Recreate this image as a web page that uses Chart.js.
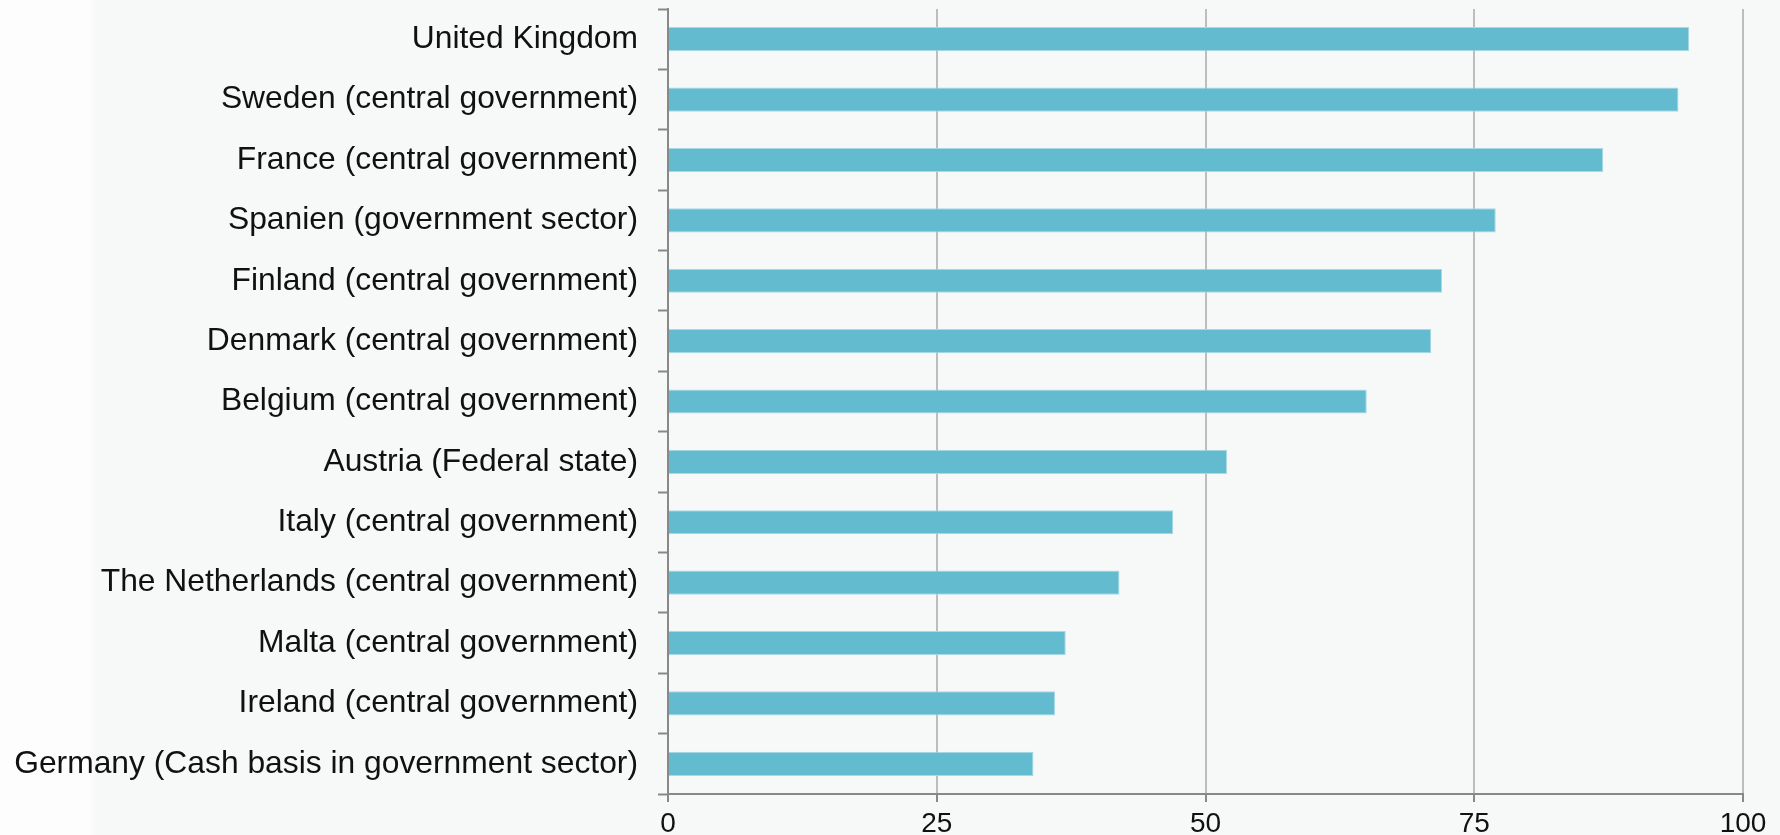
<!DOCTYPE html>
<html>
<head>
<meta charset="utf-8">
<script src="https://cdn.jsdelivr.net/npm/chart.js@4/dist/chart.umd.min.js"></script>
<style>
  html, body { margin: 0; padding: 0; }
  body {
    width: 1780px; height: 835px; overflow: hidden;
    background: linear-gradient(to right, #fdfdfd 0px, #fdfdfd 88px, #f7f9f9 96px, #f7f9f9 100%);
  }
  #wrap { position: relative; width: 1780px; height: 835px; }
</style>
</head>
<body>
<div id="wrap"><canvas id="barChart"></canvas></div>
<script>
const categories = [
  'United Kingdom',
  'Sweden (central government)',
  'France (central government)',
  'Spanien (government sector)',
  'Finland (central government)',
  'Denmark (central government)',
  'Belgium (central government)',
  'Austria (Federal state)',
  'Italy (central government)',
  'The Netherlands (central government)',
  'Malta (central government)',
  'Ireland (central government)',
  'Germany (Cash basis in government sector)'
];
const values = [95, 94, 87, 77, 72, 71, 65, 52, 47, 42, 37, 36, 34];
const xMin = 0;
const xMax = 100;
const xStep = 25;

const ctx = document.getElementById('barChart');
const chart = new Chart(ctx, {
  type: 'bar',
  data: {
    labels: categories,
    datasets: [{
      data: values,
      backgroundColor: '#62bbcf',
      borderColor: '#a8d9e4',
      borderWidth: 1,
      borderSkipped: 'start',
      barPercentage: 0.4,
      categoryPercentage: 1.0
    }]
  },
  options: {
    indexAxis: 'y',
    responsive: true,
    maintainAspectRatio: false,
    animation: false,
    layout: { padding: { top: 9, right: 37, left: 0, bottom: 0 } },
    plugins: {
      legend: { display: false },
      title: { display: false },
      tooltip: { enabled: false }
    },
    scales: {
      x: {
        min: xMin,
        max: xMax,
        ticks: {
          stepSize: xStep,
          color: '#111',
          font: { family: 'Liberation Sans, Arial, sans-serif', size: 28 },
          padding: 5,
          maxRotation: 0
        },
        grid: {
          color: '#bdbdbd',
          lineWidth: 2,
          tickColor: '#888',
          tickLength: 8
        },
        border: { display: true, color: '#888', width: 2 },
        afterFit: (scale) => {
          scale.height = 41;
          scale.paddingLeft = 0;
          scale.paddingRight = 0;
        }
      },
      y: {
        ticks: {
          color: '#111',
          font: { family: 'Liberation Sans, Arial, sans-serif', size: 31.8 },
          padding: 20
        },
        grid: {
          drawOnChartArea: false,
          offset: true,
          tickColor: '#888',
          tickWidth: 2,
          tickLength: 10
        },
        border: { display: true, color: '#888', width: 2 },
        afterFit: (scale) => {
          scale.width = 668;
          scale.paddingTop = 0;
          scale.paddingBottom = 0;
        }
      }
    }
  }
});
</script>
</body>
</html>
